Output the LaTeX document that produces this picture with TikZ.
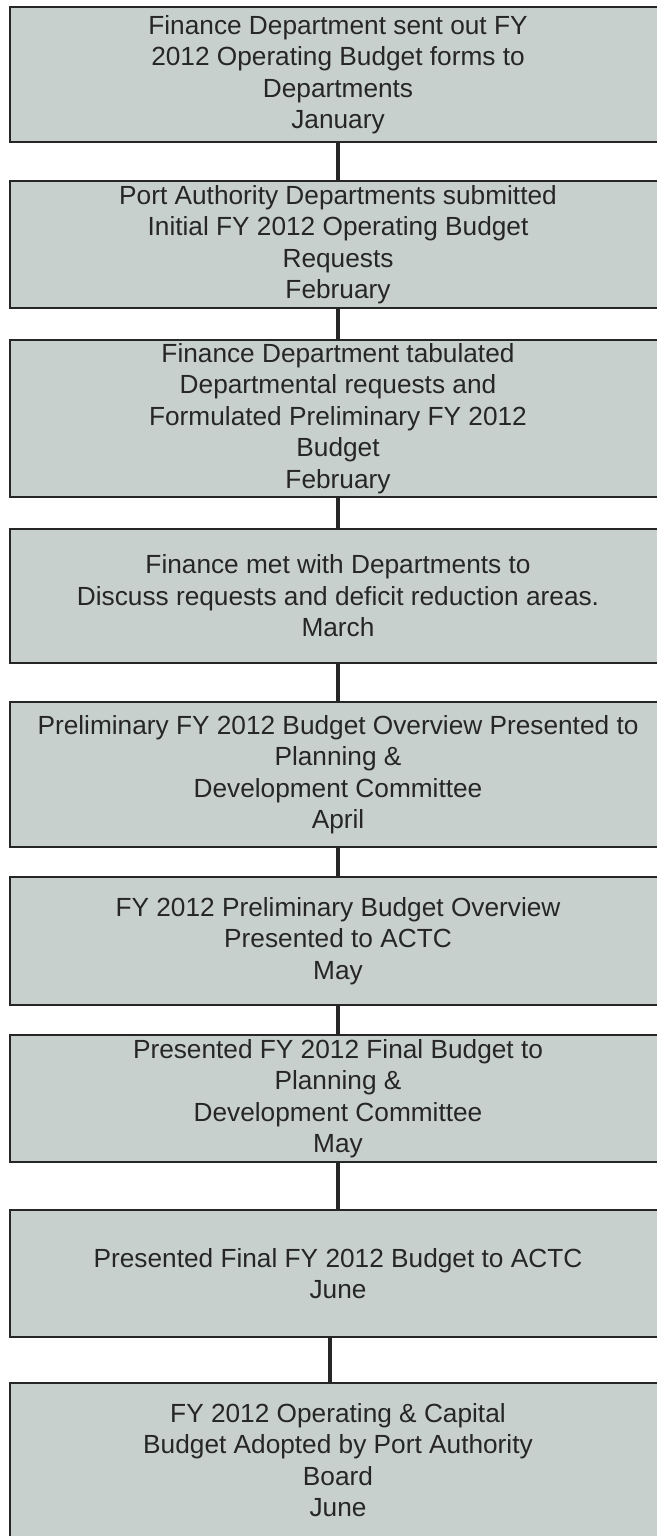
\documentclass[tikz,border=0pt]{standalone}
\usepackage{fontspec}
\setmainfont{Liberation Sans}
\usepackage{tikz}
\definecolor{panelgrey}{RGB}{200, 208, 205}
\definecolor{inkgrey}{RGB}{38, 38, 38}

\tikzset{
    stage/.style={draw=inkgrey, fill=panelgrey, line width=1.7pt, minimum width=19.68cm,
                  inner sep=0pt, align=center, text=inkgrey,
                  font=\fontsize{22.4}{26.9}\selectfont},
    link/.style={draw=inkgrey, line width=4.2pt},
}

\begin{document}
\begin{tikzpicture}[x=0.03cm, y=-0.03cm]
            \useasboundingbox (0,0) rectangle (657,1536);
            % one box per step of the budget calendar, top to bottom
            \node[stage, minimum height=4.05cm] (sendforms)    at (338,  74.5) {Finance Department sent out FY\\2012 Operating Budget forms to\\Departments\\January};
            \node[stage, minimum height=3.81cm] (submitreq)    at (338, 244.5) {Port Authority Departments submitted\\Initial FY 2012 Operating Budget\\Requests\\February};
            \node[stage, minimum height=4.71cm] (tabulate)     at (338, 418.5) {Finance Department tabulated\\Departmental requests and\\Formulated Preliminary FY 2012\\Budget\\February};
            \node[stage, minimum height=4.02cm] (meetdept)     at (338, 596.0) {Finance met with Departments to\\Discuss requests and deficit reduction areas.\\March};
            \node[stage, minimum height=4.35cm] (overviewpd)   at (338, 774.5) {Preliminary FY 2012 Budget Overview Presented to\\Planning \&\\Development Committee\\April};
            \node[stage, minimum height=3.84cm] (overviewactc) at (338, 941.0) {FY 2012 Preliminary Budget Overview\\Presented to ACTC\\May};
            \node[stage, minimum height=3.81cm] (finalpd)      at (338,1098.5) {Presented FY 2012 Final Budget to\\Planning \&\\Development Committee\\May};
            \node[stage, minimum height=3.81cm] (finalactc)    at (338,1273.5) {Presented Final FY 2012 Budget to ACTC\\June};
            \node[stage, minimum height=4.62cm] (adopted)      at (338,1460.0) {FY 2012 Operating \& Capital\\Budget Adopted by Port Authority\\Board\\June};
            % connectors
            \draw[link] (sendforms)    -- (submitreq);
            \draw[link] (submitreq)    -- (tabulate);
            \draw[link] (tabulate)     -- (meetdept);
            \draw[link] (meetdept)     -- (overviewpd);
            \draw[link] (overviewpd)   -- (overviewactc);
            \draw[link] (overviewactc) -- (finalpd);
            \draw[link] (finalpd)      -- (finalactc);
            \draw[link] ([xshift=-0.24cm]finalactc.south) -- ([xshift=-0.24cm]adopted.north);
\end{tikzpicture}
\end{document}
